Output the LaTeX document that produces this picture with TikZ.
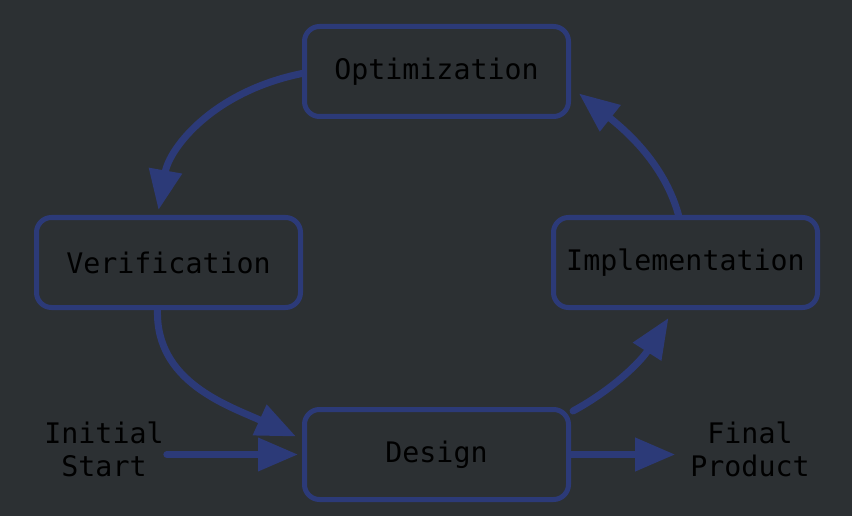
\documentclass[tikz,border=0pt]{standalone}
\usepackage{fontspec}
\setmonofont{DejaVu Sans Mono}
\usetikzlibrary{arrows.meta,calc}
\definecolor{bgc}{HTML}{2C3033}
\definecolor{edge}{HTML}{2C3A78}
\begin{document}
\begin{tikzpicture}[x=1pt,y=-1pt,
  box/.style={draw=edge,line width=5pt,rounded corners=15pt,minimum width=264pt,minimum height=90pt,inner sep=0pt,font=\ttfamily\fontsize{28.3pt}{33pt}\selectfont,text=black},
  lbl/.style={inner sep=0pt,align=center,font=\ttfamily\fontsize{28.3pt}{33pt}\selectfont,text=black},
  conn/.style={draw=edge,line width=7pt,line cap=round,-{Triangle[length=40pt,width=32pt]}}]
\fill[bgc] (0,0) rectangle (852,516);
\useasboundingbox (0,0) rectangle (852,516);
\node[box] (opt) at (436.5,71.5) {Optimization};
\node[box] (ver) at (168.5,262.5) {Verification};
\node[box] (imp) at (685.5,262.5) {Implementation};
\node[box] (des) at (436.5,454.5) {Design};
\node[lbl] (init) at (104,449) {Initial\\Start};
\node[lbl] (fin) at (750,449) {Final\\Product};
\draw[conn] ($(init.east |- des.west)+(3,0)$) -- ($(des.west)+(-4,0)$);
\draw[conn] (des.east) -- ($(fin.west |- des.east)+(-15,0)$);
\draw[conn] ($(opt.west)+(0,2)$) .. controls +(-89,18) and +(11,-62) .. ($(ver.north)+(-10,-5)$);
\draw[conn] ($(ver.south)+(-11,0)$) .. controls +(-2,72) and +(-68,-31) .. ($(des.west)+(-6,-18)$);
\draw[conn] ($(des.north east)+(2,4)$) .. controls +(39,-21) and +(-28,44) .. ($(imp.south)+(-17,8)$);
\draw[conn] ($(imp.north)+(-7,0)$) .. controls +(-13,-47) and +(53,42) .. ($(opt.east)+(8,22)$);
\end{tikzpicture}
\end{document}
